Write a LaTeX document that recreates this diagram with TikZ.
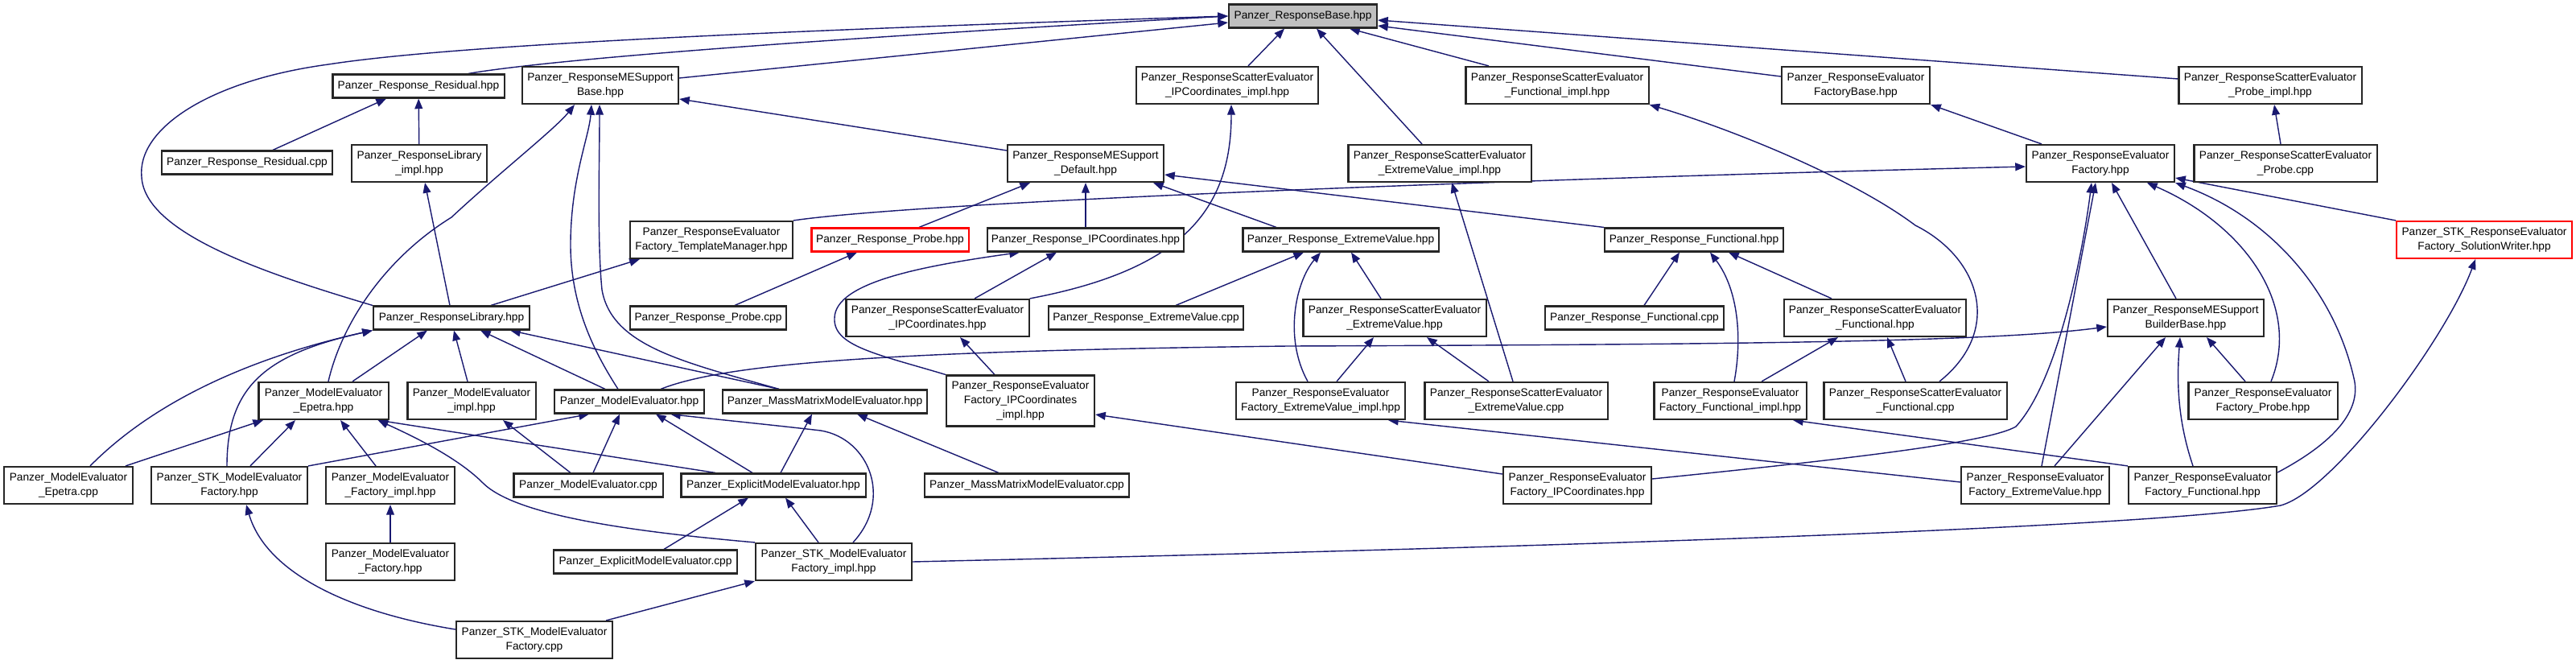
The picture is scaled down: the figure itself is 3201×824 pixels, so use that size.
\documentclass[tikz,border=0pt]{standalone}
\usepackage{fontspec}
\setmainfont{Liberation Sans}
\usetikzlibrary{arrows.meta,calc,backgrounds}
\definecolor{inclblue}{HTML}{191970}
\definecolor{basegray}{HTML}{BFBFBF}

\begin{document}
\begin{tikzpicture}[x=0.01cm, y=-0.01cm,
    filebox/.style={draw=black!85, line width=0.6pt, fill=white, inner sep=0pt,
      align=center, minimum width=#1, font=\fontsize{3.9pt}{5.2pt}\selectfont},
    oneline/.style={minimum height=0.29cm},
    twoline/.style={minimum height=0.46cm},
    threeline/.style={minimum height=0.63cm},
    redbox/.style={draw=red},
    incl/.style={draw=inclblue, line width=0.4pt, -{Triangle[length=3.6pt,width=2.8pt]}}]
  \useasboundingbox (0,0) rectangle (3201,824);

  \node[filebox=1.84cm, oneline, fill=basegray] (base) at (1619,20) {Panzer\_ResponseBase.hpp};

  \node[filebox=2.13cm, oneline] (res) at (520,107) {Panzer\_Response\_Residual.hpp};
  \node[filebox=1.94cm, twoline] (mesb) at (746,106) {Panzer\_ResponseMESupport\\Base.hpp};
  \node[filebox=2.26cm, twoline] (sipcimpl) at (1525,106) {Panzer\_ResponseScatterEvaluator\\\_IPCoordinates\_impl.hpp};
  \node[filebox=2.27cm, twoline] (sfimpl) at (1935,106) {Panzer\_ResponseScatterEvaluator\\\_Functional\_impl.hpp};
  \node[filebox=1.84cm, twoline] (efbase) at (2306,106) {Panzer\_ResponseEvaluator\\FactoryBase.hpp};
  \node[filebox=2.27cm, twoline] (sprobeimpl) at (2821,106) {Panzer\_ResponseScatterEvaluator\\\_Probe\_impl.hpp};

  \node[filebox=2.11cm, oneline] (rescpp) at (307,202) {Panzer\_Response\_Residual.cpp};
  \node[filebox=1.68cm, twoline] (libimpl) at (521,203) {Panzer\_ResponseLibrary\\\_impl.hpp};
  \node[filebox=1.94cm, twoline] (medef) at (1349,203) {Panzer\_ResponseMESupport\\\_Default.hpp};
  \node[filebox=2.27cm, twoline] (sevimpl) at (1789,203) {Panzer\_ResponseScatterEvaluator\\\_ExtremeValue\_impl.hpp};
  \node[filebox=1.84cm, twoline] (ef) at (2610,203) {Panzer\_ResponseEvaluator\\Factory.hpp};
  \node[filebox=2.27cm, twoline] (sprobecpp) at (2840,203) {Panzer\_ResponseScatterEvaluator\\\_Probe.cpp};

  \node[filebox=2.02cm, twoline] (tmgr) at (884,298) {Panzer\_ResponseEvaluator\\Factory\_TemplateManager.hpp};
  \node[filebox=1.95cm, oneline, redbox] (probe) at (1106,298) {Panzer\_Response\_Probe.hpp};
  \node[filebox=2.44cm, oneline] (ipc) at (1349,298) {Panzer\_Response\_IPCoordinates.hpp};
  \node[filebox=2.43cm, oneline] (ev) at (1666,298) {Panzer\_Response\_ExtremeValue.hpp};
  \node[filebox=2.22cm, oneline] (func) at (2105,298) {Panzer\_Response\_Functional.hpp};
  \node[filebox=2.18cm, twoline, redbox] (solw) at (3087,298) {Panzer\_STK\_ResponseEvaluator\\Factory\_SolutionWriter.hpp};

  \node[filebox=1.94cm, oneline] (lib) at (561,395) {Panzer\_ResponseLibrary.hpp};
  \node[filebox=1.94cm, oneline] (probecpp) at (880,395) {Panzer\_Response\_Probe.cpp};
  \node[filebox=2.27cm, twoline] (sipc) at (1165,395) {Panzer\_ResponseScatterEvaluator\\\_IPCoordinates.hpp};
  \node[filebox=2.42cm, oneline] (evcpp) at (1424,395) {Panzer\_Response\_ExtremeValue.cpp};
  \node[filebox=2.27cm, twoline] (sev) at (1733,395) {Panzer\_ResponseScatterEvaluator\\\_ExtremeValue.hpp};
  \node[filebox=2.22cm, oneline] (funccpp) at (2031,395) {Panzer\_Response\_Functional.cpp};
  \node[filebox=2.26cm, twoline] (sf) at (2330,395) {Panzer\_ResponseScatterEvaluator\\\_Functional.hpp};
  \node[filebox=1.94cm, twoline] (builder) at (2716,395) {Panzer\_ResponseMESupport\\BuilderBase.hpp};

  \node[filebox=1.61cm, twoline] (meepetra) at (402,498) {Panzer\_ModelEvaluator\\\_Epetra.hpp};
  \node[filebox=1.59cm, twoline] (meimpl) at (586,498) {Panzer\_ModelEvaluator\\\_impl.hpp};
  \node[filebox=1.86cm, oneline] (me) at (782,499) {Panzer\_ModelEvaluator.hpp};
  \node[filebox=2.54cm, oneline] (mm) at (1025,499) {Panzer\_MassMatrixModelEvaluator.hpp};
  \node[filebox=1.84cm, threeline] (efipcimpl) at (1268,498) {Panzer\_ResponseEvaluator\\Factory\_IPCoordinates\\\_impl.hpp};
  \node[filebox=2.10cm, twoline] (efevimpl) at (1641,498) {Panzer\_ResponseEvaluator\\Factory\_ExtremeValue\_impl.hpp};
  \node[filebox=2.27cm, twoline] (sevcpp) at (1884,498) {Panzer\_ResponseScatterEvaluator\\\_ExtremeValue.cpp};
  \node[filebox=1.89cm, twoline] (effimpl) at (2150,498) {Panzer\_ResponseEvaluator\\Factory\_Functional\_impl.hpp};
  \node[filebox=2.27cm, twoline] (sfcpp) at (2380,498) {Panzer\_ResponseScatterEvaluator\\\_Functional.cpp};
  \node[filebox=1.85cm, twoline] (efprobe) at (2812,498) {Panzer\_ResponseEvaluator\\Factory\_Probe.hpp};

  \node[filebox=1.60cm, twoline] (meepetracpp) at (85,603) {Panzer\_ModelEvaluator\\\_Epetra.cpp};
  \node[filebox=1.94cm, twoline] (stkmef) at (285,603) {Panzer\_STK\_ModelEvaluator\\Factory.hpp};
  \node[filebox=1.60cm, twoline] (mefimpl) at (485,603) {Panzer\_ModelEvaluator\\\_Factory\_impl.hpp};
  \node[filebox=1.85cm, oneline] (mecpp) at (731,603) {Panzer\_ModelEvaluator.cpp};
  \node[filebox=2.29cm, oneline] (explicit) at (961,603) {Panzer\_ExplicitModelEvaluator.hpp};
  \node[filebox=2.54cm, oneline] (mmcpp) at (1276,603) {Panzer\_MassMatrixModelEvaluator.cpp};
  \node[filebox=1.84cm, twoline] (efipc) at (1960,603) {Panzer\_ResponseEvaluator\\Factory\_IPCoordinates.hpp};
  \node[filebox=1.84cm, twoline] (efev) at (2529,603) {Panzer\_ResponseEvaluator\\Factory\_ExtremeValue.hpp};
  \node[filebox=1.84cm, twoline] (eff) at (2737,603) {Panzer\_ResponseEvaluator\\Factory\_Functional.hpp};

  \node[filebox=1.60cm, twoline] (mef) at (485,698) {Panzer\_ModelEvaluator\\\_Factory.hpp};
  \node[filebox=2.28cm, oneline] (explicitcpp) at (802,698) {Panzer\_ExplicitModelEvaluator.cpp};
  \node[filebox=1.94cm, twoline] (stkmefimpl) at (1036,698) {Panzer\_STK\_ModelEvaluator\\Factory\_impl.hpp};

  \node[filebox=1.94cm, twoline] (stkmefcpp) at (664,795) {Panzer\_STK\_ModelEvaluator\\Factory.cpp};

  \begin{scope}[on background layer]
    \draw[incl] ($(res.north)+(62,0)$) .. controls (660,78) and (900,55) .. (base.west);
    \draw[incl] (lib.north west) .. controls (330,340) and (180,290) .. (176,220) .. controls (170,160) and (260,100) .. (408,80) .. controls (550,58) and (900,40) .. (base.west);
    \draw[incl] ($(mesb.east)+(0,-9)$) -- ($(base.west)+(0,8)$);
    \draw[incl] ($(sipcimpl.north)+(26,0)$) -- ($(base.south)+(-23,0)$);
    \draw[incl] ($(sevimpl.north)+(-22,0)$) -- ($(base.south)+(17,0)$);
    \draw[incl] ($(sfimpl.north)+(-85,0)$) -- ($(base.south)+(58,0)$);
    \draw[incl] ($(efbase.west)+(0,-11)$) -- ($(base.east)+(0,12)$);
    \draw[incl] ($(sprobeimpl.west)+(0,-8)$) -- ($(base.east)+(0,5)$);

    \draw[incl] ($(rescpp.north)+(32,0)$) -- ($(res.south)+(-40,0)$);
    \draw[incl] (libimpl) -- (res);
    \draw[incl] ($(lib.north)+(-2,0)$) -- ($(libimpl.south)+(7,0)$);

    \draw[incl] ($(meepetra.north)+(6,0)$) .. controls (425,400) and (480,320) .. (561,270) .. controls (620,215) and (690,160) .. ($(mesb.south)+(-32,0)$);
    \draw[incl] ($(me.north)+(-14,0)$) .. controls (740,440) and (708,380) .. (709,300) .. controls (710,220) and (732,170) .. ($(mesb.south)+(-11,0)$);
    \draw[incl] ($(mm.north)+(-57,0)$) .. controls (850,450) and (760,430) .. (748,360) .. controls (742,300) and (745,200) .. ($(mesb.south)+(-1,0)$);
    \draw[incl] ($(mm.north)+(-57,0)$) -- ($(lib.south east)+(-25,0)$);
    \draw[incl] ($(medef.west)+(0,-16)$) -- ($(mesb.east)+(0,17)$);

    \draw[incl] ($(meepetracpp.north)+(27,0)$) .. controls (200,490) and (330,440) .. (lib.south west);
    \draw[incl] ($(stkmef.north)+(-3,0)$) .. controls (282,480) and (330,440) .. (lib.south west);
    \draw[incl] ($(meepetra.north)+(36,0)$) -- ($(lib.south)+(-30,0)$);
    \draw[incl] ($(meimpl.north)+(-5,0)$) -- ($(lib.south)+(3,0)$);
    \draw[incl] ($(me.north)+(-30,0)$) -- ($(lib.south)+(36,0)$);
    \draw[incl] ($(lib.north)+(49,0)$) -- ($(tmgr.south west)+(13,0)$);
    \draw[incl] (tmgr.north east) .. controls (1150,250) and (1900,222) .. ($(ef.west)+(0,4)$);

    \draw[incl] ($(probe.north)+(36,0)$) -- ($(medef.south)+(-69,0)$);
    \draw[incl] (ipc) -- (medef);
    \draw[incl] ($(ev.north)+(-80,0)$) -- ($(medef.south)+(84,0)$);
    \draw[incl] (func.north west) -- ($(medef.east)+(0,14)$);
    \draw[incl] ($(probecpp.north)+(33,0)$) -- ($(probe.south)+(-41,0)$);

    \draw[incl] ($(sipc.north)+(46,0)$) -- ($(ipc.south)+(-36,0)$);
    \draw[incl] (efipcimpl.north west) .. controls (1090,440) and (1035,430) .. (1037,395) .. controls (1038,350) and (1150,330) .. ($(ipc.south)+(-82,0)$);
    \draw[incl] (sipc.north east) .. controls (1470,335) and (1530,260) .. ($(sipcimpl.south)+(5,0)$);
    \draw[incl] ($(efipcimpl.north)+(-32,0)$) -- ($(sipc.south)+(28,0)$);

    \draw[incl] ($(evcpp.north)+(37,0)$) -- ($(ev.south)+(-46,0)$);
    \draw[incl] ($(efevimpl.north)+(-16,0)$) .. controls (1595,420) and (1610,350) .. ($(ev.south)+(-25,0)$);
    \draw[incl] ($(sev.north)+(-17,0)$) -- ($(ev.south)+(13,0)$);
    \draw[incl] ($(efevimpl.north)+(20,0)$) -- ($(sev.south)+(-26,0)$);
    \draw[incl] ($(sevcpp.north)+(-34,0)$) -- ($(sev.south)+(40,0)$);
    \draw[incl] ($(sevcpp.north)+(-4,0)$) -- ($(sevimpl.south)+(15,0)$);

    \draw[incl] ($(funccpp.north)+(12,0)$) -- ($(func.south)+(-18,0)$);
    \draw[incl] ($(effimpl.north)+(5,0)$) .. controls (2165,420) and (2160,360) .. ($(func.south)+(20,0)$);
    \draw[incl] ($(sf.north)+(-54,0)$) -- ($(func.south)+(43,0)$);
    \draw[incl] ($(effimpl.north)+(39,0)$) -- ($(sf.south)+(-46,0)$);
    \draw[incl] ($(sfcpp.north)+(-12,0)$) -- ($(sf.south)+(15,0)$);
    \draw[incl] ($(sfcpp.north)+(30,0)$) .. controls (2490,410) and (2460,320) .. (2380,280) .. controls (2300,220) and (2150,160) .. (sfimpl.south east);

    \draw[incl] ($(ef.north)+(-73,0)$) -- (efbase.south east);
    \draw[incl] ($(sprobecpp.north)+(-6,0)$) -- ($(sprobeimpl.south)+(5,0)$);
    \draw[incl] ($(efipc.east)+(0,-8)$) .. controls (2300,570) and (2470,550) .. (2505,530) .. controls (2560,470) and (2590,300) .. ($(ef.south)+(-11,0)$);
    \draw[incl] ($(efev.north)+(8,0)$) -- ($(ef.south)+(-6,0)$);
    \draw[incl] ($(builder.north)+(-12,0)$) -- ($(ef.south)+(14,0)$);
    \draw[incl] ($(efprobe.north)+(10,0)$) .. controls (2860,380) and (2790,280) .. ($(ef.south)+(58,0)$);
    \draw[incl] ($(eff.east)+(0,-16)$) .. controls (2900,550) and (2935,510) .. (2925,470) .. controls (2900,360) and (2820,270) .. (ef.south east);
    \draw[incl] (solw.north west) -- ($(ef.east)+(0,18)$);

    \draw[incl] ($(me.north)+(39,0)$) .. controls (900,452) and (1100,436) .. (1600,430) .. controls (2200,428) and (2480,424) .. ($(builder.west)+(0,11)$);
    \draw[incl] ($(efev.north)+(24,0)$) -- ($(builder.south)+(-25,0)$);
    \draw[incl] ($(eff.north)+(-12,0)$) .. controls (2705,520) and (2705,470) .. ($(builder.south)+(-7,0)$);
    \draw[incl] ($(efprobe.north)+(-22,0)$) -- ($(builder.south)+(26,0)$);

    \draw[incl] (stkmefimpl.east) .. controls (1700,685) and (2650,660) .. (2834,628) .. controls (2900,610) and (3040,420) .. ($(solw.south)+(-11,0)$);

    \draw[incl] ($(efipc.west)+(0,-14)$) -- ($(efipcimpl.east)+(0,17)$);
    \draw[incl] ($(efev.west)+(0,-4)$) -- ($(efevimpl.south)+(84,0)$);
    \draw[incl] (eff.north west) -- ($(effimpl.south)+(78,0)$);

    \draw[incl] ($(meepetracpp.north)+(71,0)$) -- ($(meepetra.south)+(-75,0)$);
    \draw[incl] ($(stkmef.north)+(26,0)$) -- ($(meepetra.south)+(-35,0)$);
    \draw[incl] ($(mefimpl.north)+(-18,0)$) -- ($(meepetra.south)+(21,0)$);
    \draw[incl] (stkmefimpl.north west) .. controls (780,660) and (640,640) .. (600,600) .. controls (570,570) and (520,545) .. ($(meepetra.south east)+(-14,0)$);
    \draw[incl] ($(explicit.north)+(-72,0)$) -- ($(meepetra.south east)+(-14,0)$);
    \draw[incl] ($(mecpp.north)+(-22,0)$) -- ($(meimpl.south)+(39,0)$);
    \draw[incl] (stkmef.north east) -- ($(me.south)+(-50,0)$);
    \draw[incl] ($(mecpp.north)+(6,0)$) -- ($(me.south)+(-12,0)$);
    \draw[incl] ($(explicit.north)+(-26,0)$) -- ($(me.south)+(33,0)$);
    \draw[incl] ($(stkmefimpl.north)+(24,0)$) .. controls (1110,620) and (1080,545) .. (1020,535) .. controls (960,528) and (880,520) .. ($(me.south)+(51,0)$);
    \draw[incl] ($(explicit.north)+(9,0)$) -- ($(mm.south)+(-16,0)$);
    \draw[incl] ($(mmcpp.north)+(-35,0)$) -- ($(mm.south)+(40,0)$);
    \draw[incl] ($(explicitcpp.north)+(23,0)$) -- ($(explicit.south)+(-31,0)$);
    \draw[incl] ($(stkmefimpl.north)+(-19,0)$) -- ($(explicit.south)+(15,0)$);
    \draw[incl] (mef) -- (mefimpl);
    \draw[incl] ($(stkmefcpp.north east)+(-9,0)$) -- (stkmefimpl.south west);
    \draw[incl] ($(stkmefcpp.west)+(0,-13)$) .. controls (430,760) and (330,710) .. ($(stkmef.south)+(21,0)$);
  \end{scope}
\end{tikzpicture}
\end{document}
